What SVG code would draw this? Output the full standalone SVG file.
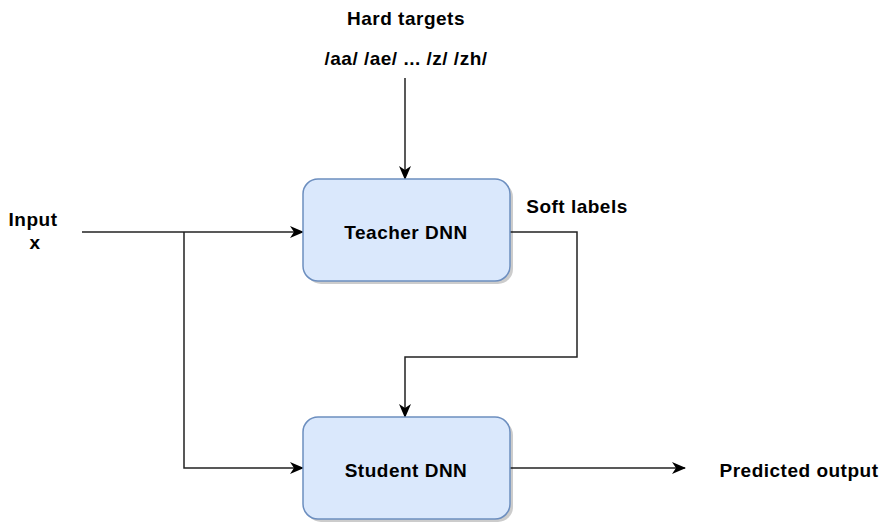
<svg xmlns="http://www.w3.org/2000/svg" width="884" height="523" viewBox="0 0 884 523">
<defs>
<style>
.t{font-family:"Liberation Sans",Arial,sans-serif;font-weight:bold;font-size:19px;letter-spacing:0.5px;fill:#000}
.box{fill:#dae8fc;stroke:#6c8ebf;stroke-width:1.5}
.sh{fill:#000;opacity:0.2}
.c{fill:none;stroke:#222;stroke-width:1.5}
</style>
<marker id="a" viewBox="0 0 14 12" refX="13" refY="6" markerWidth="14" markerHeight="12" markerUnits="userSpaceOnUse" orient="auto">
<path d="M0,0 L14,6 L0,12 L4,6 Z" fill="#000"/>
</marker>
</defs>
<rect width="884" height="523" fill="#fff"/>
<g id="connectors">
<path class="c" d="M405,78 V179" marker-end="url(#a)"/>
<path class="c" d="M82,232 H303" marker-end="url(#a)"/>
<path class="c" d="M184,232 V468 H303" marker-end="url(#a)"/>
<path class="c" d="M510,232 H577 V357 H405 V417" marker-end="url(#a)"/>
<path class="c" d="M510,468 H685" marker-end="url(#a)"/>
</g>
<g id="teacher">
<rect class="sh" x="306" y="182" width="207" height="102" rx="15"/>
<rect class="box" x="303" y="179" width="207" height="102" rx="15"/>
<text class="t" x="406" y="239" text-anchor="middle">Teacher DNN</text>
</g>
<g id="student">
<rect class="sh" x="306" y="420" width="207" height="102" rx="15"/>
<rect class="box" x="303" y="417" width="207" height="102" rx="15"/>
<text class="t" x="406" y="477" text-anchor="middle">Student DNN</text>
</g>
<g id="labels">
<text class="t" x="406" y="25" text-anchor="middle">Hard targets</text>
<text class="t" x="406" y="65" text-anchor="middle">/aa/ /ae/ ... /z/ /zh/</text>
<text class="t" x="577" y="213" text-anchor="middle">Soft labels</text>
<text class="t" x="33" y="226" text-anchor="middle">Input</text>
<text class="t" x="35" y="249" text-anchor="middle">x</text>
<text class="t" x="799" y="477" text-anchor="middle">Predicted output</text>
</g>
</svg>
